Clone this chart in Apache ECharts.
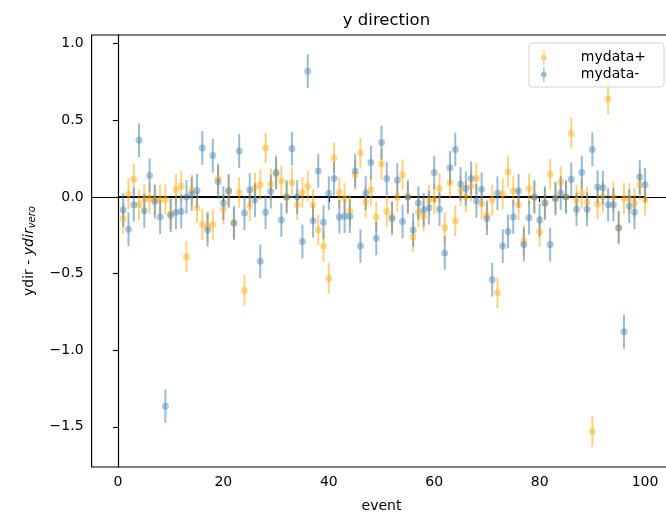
<!DOCTYPE html>
<html>
<head>
<meta charset="utf-8">
<script src="https://cdn.jsdelivr.net/npm/echarts@6/dist/echarts.min.js"></script>
<style>
html,body{margin:0;padding:0;background:#fff;}
#chart{width:666px;height:517px;}
</style>
</head>
<body>
<div id="chart"></div>
<script>
const events = [1,2,3,4,5,6,7,8,9,10,11,12,13,14,15,16,17,18,19,20,
  21,22,23,24,25,26,27,28,29,30,31,32,33,34,35,36,37,38,39,40,
  41,42,43,44,45,46,47,48,49,50,51,52,53,54,55,56,57,58,59,60,
  61,62,63,64,65,66,67,68,69,70,71,72,73,74,75,76,77,78,79,80,
  81,82,83,84,85,86,87,88,89,90,91,92,93,94,95,96,97,98,99,100];

const mydataPlus = [-0.14,0.02,0.115,-0.05,-0.015,-0.01,-0.02,-0.02,-0.015,-0.11,
  0.05,0.07,-0.39,0.045,-0.07,-0.18,-0.19,-0.18,0.12,-0.08,
  0.04,-0.17,0.03,-0.61,-0.057,0.06,0.08,0.32,0.085,0.15,
  0.105,0.0,0.095,-0.05,0.03,0.07,-0.05,-0.215,-0.32,-0.53,
  0.255,0.03,-0.01,-0.09,0.145,0.285,-0.035,0.045,-0.13,0.215,
  -0.095,-0.13,0.0,0.145,0.0,-0.26,-0.10,-0.125,-0.02,-0.015,
  0.055,-0.2,0.095,-0.155,0.04,0.0,0.07,0.12,-0.045,-0.12,
  -0.02,-0.625,0.02,0.165,0.04,-0.05,-0.285,0.055,0.0,-0.225,
  -0.04,0.15,-0.01,0.1,0.0,0.415,-0.02,0.025,-0.035,-1.53,
  -0.045,0.0,0.64,0.0,-0.2,-0.01,-0.01,-0.04,0.08,-0.02];

const mydataMinus = [-0.085,-0.21,-0.05,0.37,-0.09,0.14,-0.03,-0.13,-1.365,-0.12,
  -0.1,-0.095,0.0,0.02,0.04,0.32,-0.215,0.27,0.10,-0.04,
  0.04,-0.17,0.30,-0.105,0.046,-0.02,-0.42,-0.10,0.035,0.16,
  -0.15,0.0,0.315,0.0,-0.29,0.82,-0.155,0.17,-0.165,0.025,
  0.12,-0.13,-0.125,-0.125,0.17,-0.32,0.025,0.225,-0.27,0.355,
  0.12,-0.14,0.11,-0.16,0.0,-0.215,-0.04,-0.085,-0.07,0.16,
  -0.08,-0.365,0.19,0.31,0.085,0.055,0.12,-0.025,0.05,-0.14,
  -0.54,0.025,-0.32,-0.225,-0.13,0.04,-0.31,-0.135,0.0,-0.15,
  -0.04,-0.31,-0.01,0.025,0.0,0.115,-0.08,0.16,-0.08,0.31,
  0.065,0.06,-0.05,-0.05,-0.2,-0.88,-0.06,-0.1,0.13,0.08];

const errPlus = 0.10;
const errMinus = 0.11;

const referenceLine = [[0, 0], [100, 0]];

const xTicks = [0, 20, 40, 60, 80, 100];
const yTicks = [-1.5, -1.0, -0.5, 0.0, 0.5, 1.0];

const ORANGE = 'rgba(255,165,0,0.5)';
const BLUE = 'rgba(70,130,180,0.55)';
const FONT = 'DejaVu Sans';

function fmt(v){
  const s = (Math.abs(v) < 1e-9 ? 0 : v).toFixed(1);
  return s.replace('-', '\u2212');
}

function errRender(color){
  return function(params, api){
    const x = api.value(0), y = api.value(1), e = api.value(2);
    const p1 = api.coord([x, y - e]);
    const p2 = api.coord([x, y + e]);
    return {type:'line', shape:{x1:p1[0], y1:p1[1], x2:p2[0], y2:p2[1]},
      style:{stroke:color, lineWidth:2}};
  };
}

const plusErrData = events.map((x, i) => [x, mydataPlus[i], errPlus]);
const minusErrData = events.map((x, i) => [x, mydataMinus[i], errMinus]);
const plusPts = events.map((x, i) => [x, mydataPlus[i]]);
const minusPts = events.map((x, i) => [x, mydataMinus[i]]);

const ICON = 'path://M4.1,0H5.9V20H4.1Z M8.8,10A3.8,3.8 0 1 1 1.2,10A3.8,3.8 0 1 1 8.8,10Z';

const chart = echarts.init(document.getElementById('chart'), null, {renderer:'canvas'});
chart.setOption({
  animation:false,
  backgroundColor:'#fff',
  title:{
    text:'y direction', left:381.5, top:7, textAlign:'center',
    textStyle:{fontFamily:FONT, fontSize:16.5, fontWeight:'normal', color:'#000'}
  },
  grid:{left:91.6, top:35, width:579.8, height:432, outerBoundsMode:'none', containLabel:false,
    show:true, borderColor:'#000', borderWidth:1.2, backgroundColor:'transparent'},
  legend:{
    left:529, top:43, orient:'vertical',
    padding:[7, 18, 5, 12], itemGap:2, itemWidth:18, itemHeight:15,
    borderColor:'#d3d3d3', borderWidth:1, borderRadius:3, backgroundColor:'rgba(255,255,255,0.8)',
    textStyle:{fontFamily:FONT, fontSize:14, color:'#000', padding:[0,0,0,23]},
    data:[
      {name:'mydata+', icon:ICON, itemStyle:{color:ORANGE}},
      {name:'mydata-', icon:ICON, itemStyle:{color:BLUE}}
    ]
  },
  xAxis:{
    type:'value', min:-5, max:105,
    name:'event', nameLocation:'middle', nameGap:32,
    nameTextStyle:{fontFamily:FONT, fontSize:14, color:'#000'},
    axisLine:{show:true, lineStyle:{color:'#000', width:1.2}},
    axisTick:{show:true, length:5, lineStyle:{color:'#000', width:1.1}, customValues:xTicks},
    axisLabel:{fontFamily:FONT, fontSize:14, color:'#000', margin:8, customValues:xTicks, formatter:v => String(v)},
    splitLine:{show:false}
  },
  yAxis:{
    type:'value', min:-1.762, max:1.057,
    name:'ydir - {it|ydir}{sub|vero}', nameLocation:'middle', nameGap:54, nameRotate:90,
    nameTextStyle:{fontFamily:FONT, fontSize:14, color:'#000',
      rich:{
        it:{fontFamily:FONT, fontSize:14, fontStyle:'italic', color:'#000'},
        sub:{fontFamily:FONT, fontSize:10, fontStyle:'italic', color:'#000', padding:[7,0,0,0]}
      }},
    axisLine:{show:true, lineStyle:{color:'#000', width:1.2}},
    axisTick:{show:true, length:5, lineStyle:{color:'#000', width:1.1}, customValues:yTicks},
    axisLabel:{fontFamily:FONT, fontSize:14, color:'#000', margin:8, customValues:yTicks, formatter:fmt},
    splitLine:{show:false}
  },
  series:[
    {type:'line', data:referenceLine, symbol:'none', silent:true,
      lineStyle:{color:'#000', width:2}, z:1},
    {name:'mydata+', type:'custom', data:plusErrData, renderItem:errRender(ORANGE),
      encode:{x:0, y:1}, z:2},
    {name:'mydata+', type:'scatter', data:plusPts, symbol:'circle', symbolSize:7,
      itemStyle:{color:ORANGE}, z:2},
    {name:'mydata-', type:'custom', data:minusErrData, renderItem:errRender(BLUE),
      encode:{x:0, y:1}, z:2},
    {name:'mydata-', type:'scatter', data:minusPts, symbol:'circle', symbolSize:7,
      itemStyle:{color:BLUE}, z:2}
  ]
});
</script>
</body>
</html>
